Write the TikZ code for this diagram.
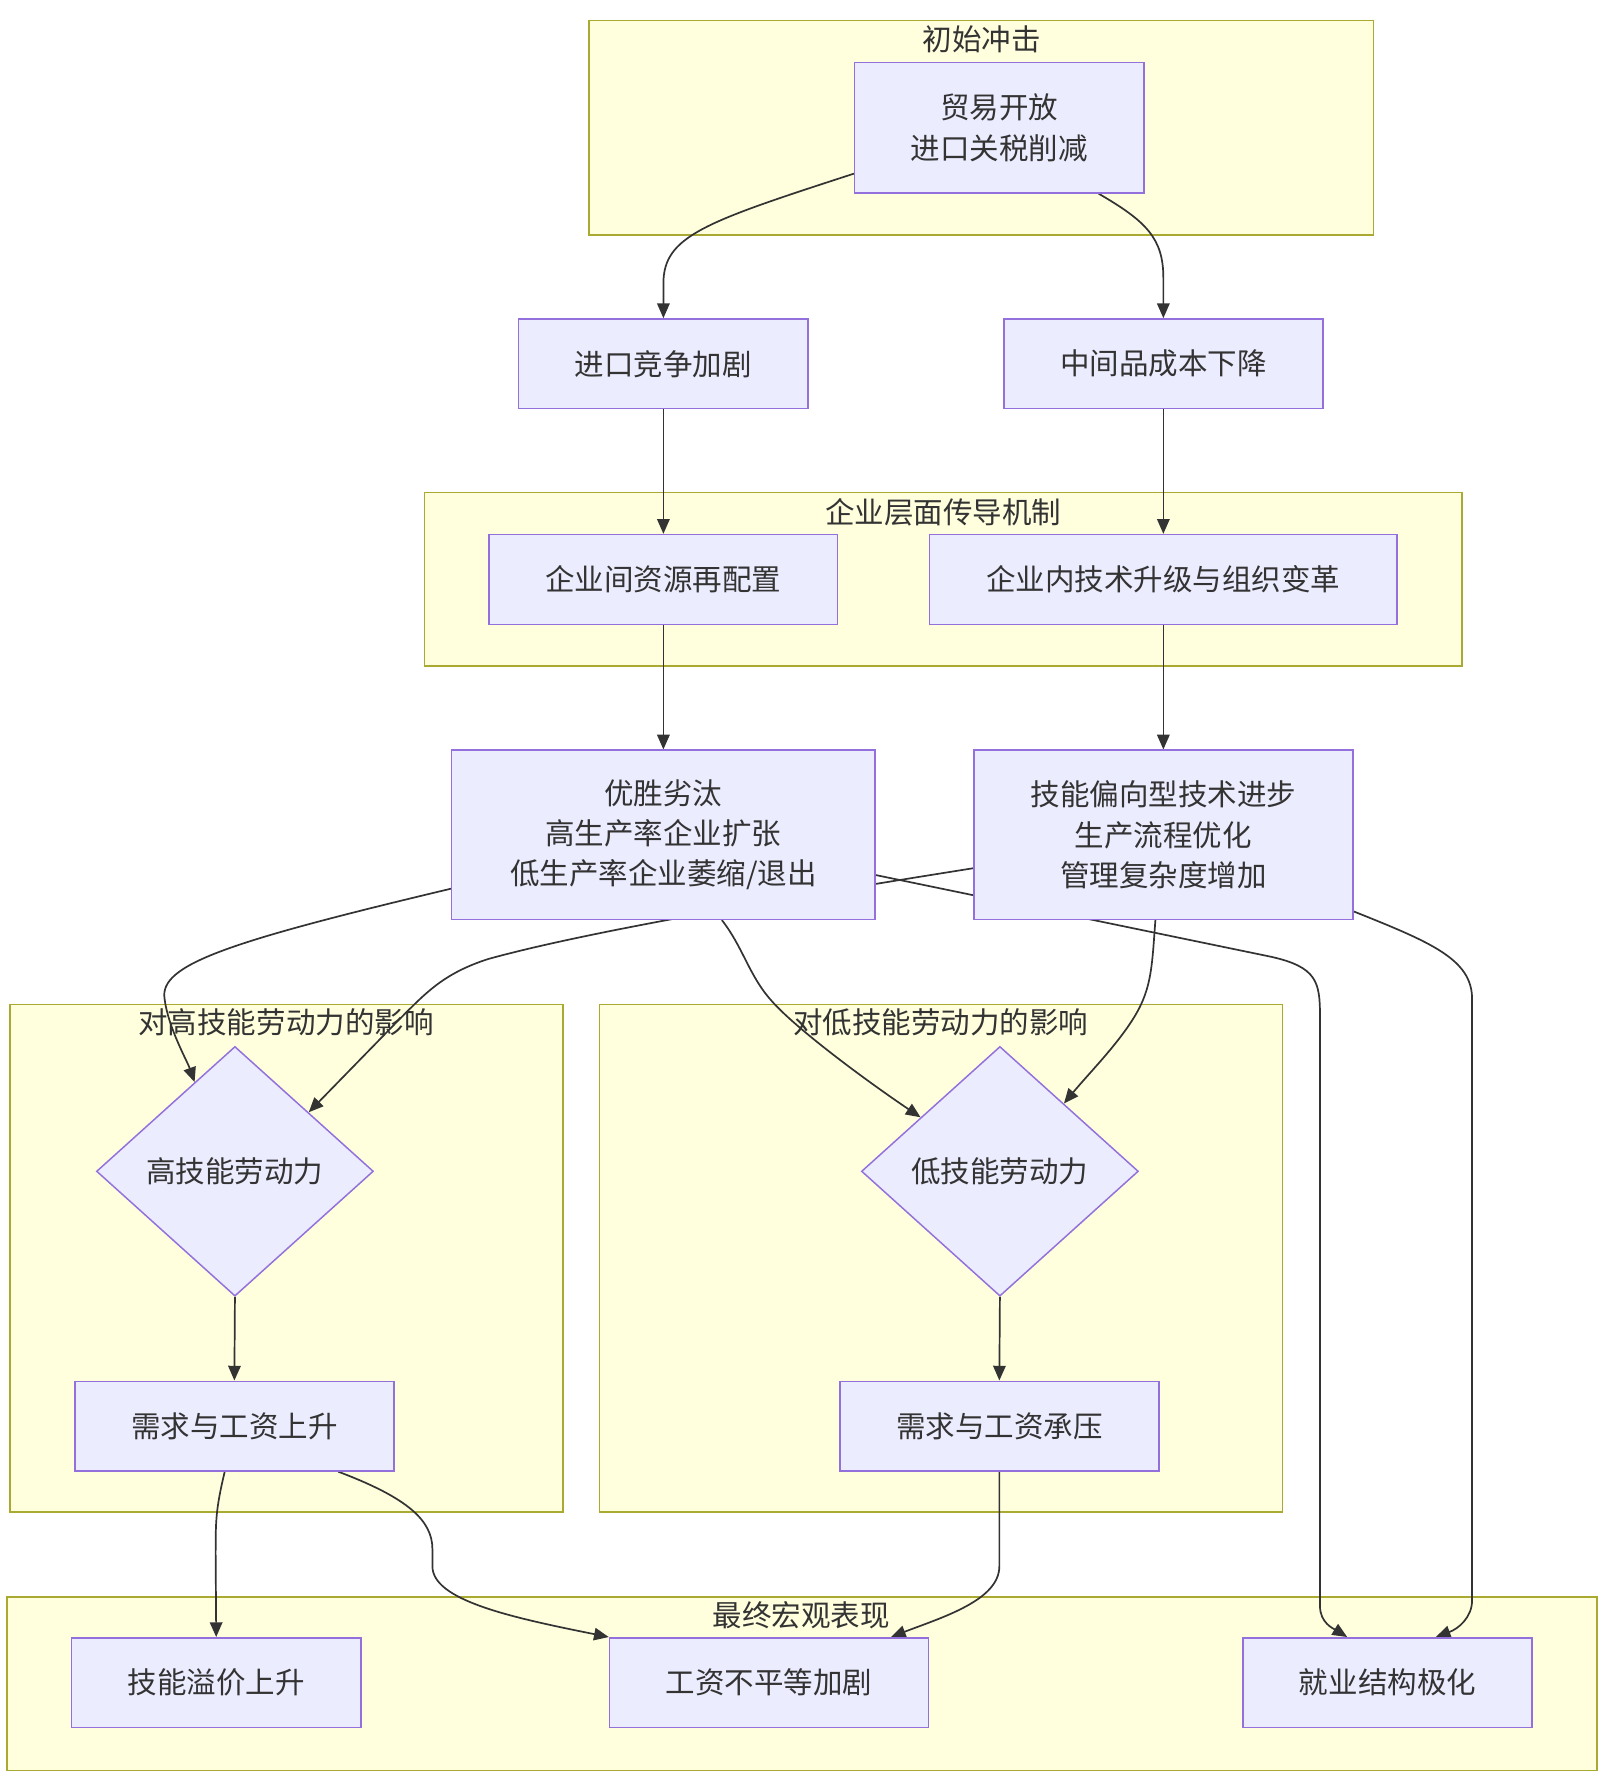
\documentclass[tikz,border=0pt]{standalone}
\usepackage{fontspec}
\newfontfamily\cjk{Noto Sans CJK SC}
\usetikzlibrary{shapes.geometric, arrows.meta, positioning, calc, backgrounds}
\definecolor{nodefill}{RGB}{236,236,255}
\definecolor{nodeborder}{RGB}{147,112,219}
\definecolor{groupfill}{RGB}{255,255,222}
\definecolor{groupborder}{RGB}{170,170,51}
\definecolor{flowcolor}{RGB}{51,51,51}
\pgfdeclarelayer{groups}
\pgfdeclarelayer{edges}
\pgfsetlayers{groups,edges,main}

\begin{document}
\begin{tikzpicture}[
    x=1pt, y=-1pt,
    every node/.style={font=\cjk\fontsize{26}{35.5}\selectfont, text=flowcolor},
    box/.style={draw=nodeborder, fill=nodefill, line width=1.3pt, minimum height=79pt, align=center, inner sep=0pt},
    decision/.style={diamond, draw=nodeborder, fill=nodefill, line width=1.3pt, minimum width=244pt, minimum height=220pt, inner sep=0pt},
    group/.style={draw=groupborder, fill=groupfill, line width=1.3pt},
    flow/.style={draw=flowcolor, line width=1.5pt, -{Triangle[length=13pt,width=11pt]}}
]
    \useasboundingbox (0,0) rectangle (1409.7,1564.8);

    % subgraphs
    \begin{pgfonlayer}{groups}
        \draw[group] (519,18) rectangle (1210,207);
        \node (g1) at (865,35) {初始冲击};
        \draw[group] (374,434) rectangle (1288,587);
        \node (g2) at (831,451) {企业层面传导机制};
        \draw[group] (9,885) rectangle (496,1332);
        \node (g3) at (252,901) {对高技能劳动力的影响};
        \draw[group] (528,885) rectangle (1130,1332);
        \node (g4) at (829,901) {对低技能劳动力的影响};
        \draw[group] (6,1407) rectangle (1407,1560);
        \node (g5) at (706,1423) {最终宏观表现};
    \end{pgfonlayer}

    \node[box, minimum width=255pt, minimum height=115pt] (trade) at (880.5,112.5) {贸易开放\\进口关税削减};
    \node[box, minimum width=255pt] (imp) at (584.5,320.5) {进口竞争加剧};
    \node[box, minimum width=281pt] (mid) at (1025,320.5) {中间品成本下降};
    \node[box, minimum width=307pt] (inter) at (584.5,510.5) {企业间资源再配置};
    \node[box, minimum width=412pt] (intra) at (1025,510.5) {企业内技术升级与组织变革};
    \node[box, minimum width=373pt, minimum height=149pt] (shakeout) at (584.5,735.5) {优胜劣汰\\高生产率企业扩张\\低生产率企业萎缩/退出};
    \node[box, minimum width=334pt, minimum height=149pt] (sbtc) at (1025,735.5) {技能偏向型技术进步\\生产流程优化\\管理复杂度增加};
    \node[decision] (hi) at (207,1032) {高技能劳动力};
    \node[decision] (lo) at (881,1032) {低技能劳动力};
    \node[box, minimum width=281pt] (hiwage) at (206.5,1256.5) {需求与工资上升};
    \node[box, minimum width=281pt] (lowage) at (880.5,1256.5) {需求与工资承压};
    \node[box, minimum width=255pt] (premium) at (190.5,1482.5) {技能溢价上升};
    \node[box, minimum width=281pt] (ineq) at (677.5,1482.5) {工资不平等加剧};
    \node[box, minimum width=255pt] (polar) at (1222.5,1482.5) {就业结构极化};

    % connectors
    \begin{pgfonlayer}{edges}
        \draw[flow] ($(trade.west)+(0,40.5)$) .. controls (620,196) and (584.5,208) .. (584.5,250) -- (imp.north);
        \draw[flow] ($(trade.south)+(87.5,0)$) .. controls (1010,195) and (1025,210) .. (1025,245) -- (mid.north);
        \draw[flow] (imp) -- (inter);
        \draw[flow] (mid) -- (intra);
        \draw[flow] (inter) -- (shakeout);
        \draw[flow] (intra) -- (sbtc);
        \draw[flow] ($(shakeout.west)+(0,47.5)$) .. controls (200,830) and (140,850) .. (145,880) .. controls (148,905) and (165,935) .. ($(hi.north)!0.29!(hi.west)$);
        \draw[flow] ($(sbtc.west)+(0,29.5)$) .. controls (700,790) and (520,820) .. (430,845) .. controls (390,858) and (375,875) .. (350,900) -- ($(hi.north)!0.53!(hi.east)$);
        \draw[flow] ($(shakeout.south)+(51.5,0)$) .. controls (655,835) and (660,860) .. (680,882) .. controls (700,905) and (760,950) .. ($(lo.north)!0.57!(lo.west)$);
        \draw[flow] ($(sbtc.south)+(-7,0)$) .. controls (1015,850) and (1015,870) .. (1000,895) .. controls (985,920) and (960,945) .. ($(lo.north)!0.46!(lo.east)$);
        \draw[flow] ($(shakeout.east)+(0,35.5)$) -- (1120,843) .. controls (1160,852) and (1163,865) .. (1163,895) -- (1163,1415) .. controls (1163,1430) and (1175,1435) .. ($(polar.north)+(-35.5,0)$);
        \draw[flow] ($(sbtc.east)+(0,67.5)$) .. controls (1260,830) and (1297,845) .. (1297,880) -- (1297,1410) .. controls (1297,1425) and (1285,1435) .. ($(polar.north)+(42.5,0)$);
        \draw[flow] (hi.south) -- (hiwage.north);
        \draw[flow] (lo.south) -- (lowage.north);
        \draw[flow] ($(hiwage.south)+(-8.5,0)$) .. controls (190,1330) and (190,1340) .. (190,1370) -- (premium.north);
        \draw[flow] ($(hiwage.south)+(91.5,0)$) .. controls (360,1320) and (381,1340) .. (381,1365) -- (381,1380) .. controls (381,1410) and (450,1425) .. (ineq.north west);
        \draw[flow] (lowage.south) -- (880.5,1380) .. controls (880.5,1410) and (830,1425) .. ($(ineq.north)+(107.5,0)$);
    \end{pgfonlayer}
\end{tikzpicture}
\end{document}
